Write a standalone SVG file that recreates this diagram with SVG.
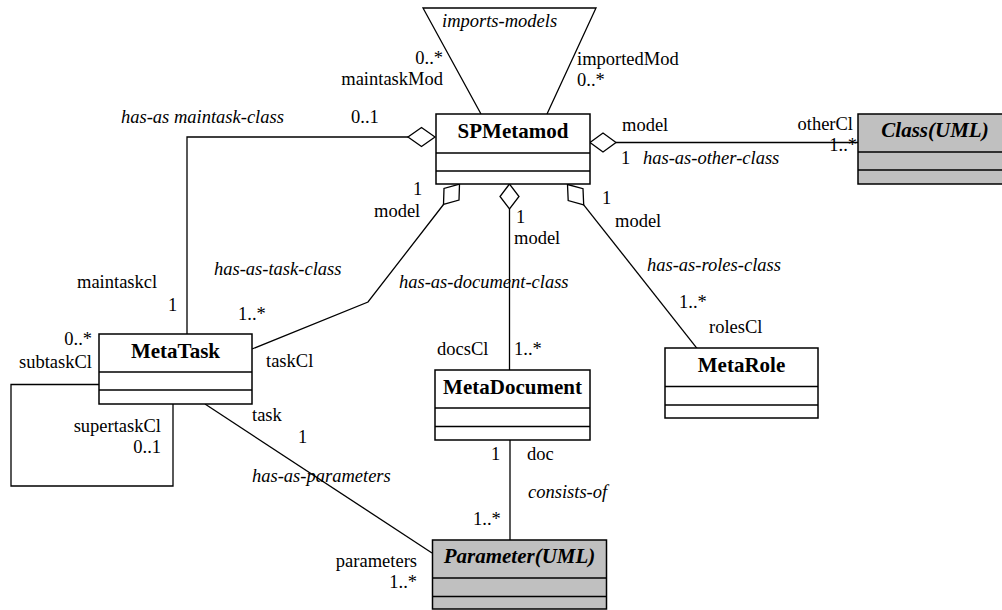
<svg xmlns="http://www.w3.org/2000/svg" width="1002" height="610" viewBox="0 0 1002 610">
  <style>
    .box { fill: #ffffff; stroke: #000; stroke-width: 1.5; }
    .ext { fill: #c0c0c0; stroke: #000; stroke-width: 1.5; }
    .sep { stroke: #000; stroke-width: 1.5; fill: none; }
    .edge { stroke: #000; stroke-width: 1.3; fill: none; }
    .agg { fill: #ffffff; stroke: #000; stroke-width: 1.3; }
    text { font-family: "Liberation Serif", "Times New Roman", serif; fill: #000; }
    .lbl { font-size: 18.5px; }
    .role { font-size: 18.5px; font-style: italic; }
    .ttl { font-size: 21px; font-weight: bold; text-anchor: middle; }
    .ttli { font-size: 21px; font-weight: bold; font-style: italic; text-anchor: middle; }
    .end { text-anchor: end; }
  </style>

  <!-- associations -->
  <g id="connectors">
    <!-- imports-models (self association of SPMetamod) -->
    <polyline class="edge" points="481,114 423,8 596,8 547,114"/>
    <!-- has-as maintask-class -->
    <polyline class="edge" points="408,137 187,137 187,334"/>
    <polygon class="agg" points="435,137 421.5,127.5 408,137 421.5,146.5"/>
    <!-- has-as-other-class -->
    <line class="edge" x1="616" y1="142.5" x2="858" y2="142.5"/>
    <polygon class="agg" points="590,142.5 603,133 616,142.5 603,152"/>
    <!-- has-as-task-class -->
    <polyline class="edge" points="443.5,204.5 368,302 252,349"/>
    <polygon class="agg" points="459.5,184 459,200.1 443.5,204.5 444,188.4"/>
    <!-- has-as-document-class -->
    <line class="edge" x1="509.5" y1="209" x2="509.5" y2="370"/>
    <polygon class="agg" points="509.5,184 500,196.5 509.5,209 519,196.5"/>
    <!-- has-as-roles-class -->
    <line class="edge" x1="583.7" y1="204.8" x2="697" y2="348.3"/>
    <polygon class="agg" points="567.5,184.5 583,188.7 583.7,204.8 568.2,200.6"/>
    <!-- subtask / supertask loop -->
    <polyline class="edge" points="99,384.5 11,384.5 11,486 173,486 173,404"/>
    <!-- has-as-parameters -->
    <line class="edge" x1="205" y1="404" x2="432" y2="553"/>
    <!-- consists-of -->
    <line class="edge" x1="510" y1="440" x2="510" y2="540"/>

    <!-- association names -->
    <text class="role" x="442" y="27">imports-models</text>
    <text class="role" x="121" y="123">has-as maintask-class</text>
    <text class="role" x="643" y="164">has-as-other-class</text>
    <text class="role" x="214" y="275">has-as-task-class</text>
    <text class="role" x="399" y="288">has-as-document-class</text>
    <text class="role" x="647" y="271">has-as-roles-class</text>
    <text class="role" x="252" y="482">has-as-parameters</text>
    <text class="role" x="528" y="498">consists-of</text>

    <!-- role names and multiplicities -->
    <text class="lbl end" x="443" y="64">0..*</text>
    <text class="lbl end" x="443" y="85">maintaskMod</text>
    <text class="lbl" x="577" y="65">importedMod</text>
    <text class="lbl" x="577" y="86">0..*</text>
    <text class="lbl" x="351" y="123">0..1</text>
    <text class="lbl" x="622" y="131">model</text>
    <text class="lbl" x="621" y="164">1</text>
    <text class="lbl end" x="853" y="130">otherCl</text>
    <text class="lbl end" x="857" y="151">1..*</text>
    <text class="lbl" x="413" y="195">1</text>
    <text class="lbl" x="374" y="217">model</text>
    <text class="lbl" x="516" y="223">1</text>
    <text class="lbl" x="514" y="244">model</text>
    <text class="lbl" x="602" y="204">1</text>
    <text class="lbl" x="615" y="227">model</text>
    <text class="lbl" x="77" y="288">maintaskcl</text>
    <text class="lbl" x="168" y="311">1</text>
    <text class="lbl" x="238" y="320">1..*</text>
    <text class="lbl" x="266" y="367">taskCl</text>
    <text class="lbl end" x="92" y="345">0..*</text>
    <text class="lbl end" x="92" y="368">subtaskCl</text>
    <text class="lbl end" x="161" y="432">supertaskCl</text>
    <text class="lbl end" x="161" y="453">0..1</text>
    <text class="lbl" x="252" y="421">task</text>
    <text class="lbl" x="298" y="443">1</text>
    <text class="lbl" x="437" y="355">docsCl</text>
    <text class="lbl" x="514" y="355">1..*</text>
    <text class="lbl" x="679" y="308">1..*</text>
    <text class="lbl" x="709" y="333">rolesCl</text>
    <text class="lbl" x="491" y="460">1</text>
    <text class="lbl" x="527" y="460">doc</text>
    <text class="lbl" x="473" y="525">1..*</text>
    <text class="lbl end" x="417" y="567">parameters</text>
    <text class="lbl end" x="417" y="588">1..*</text>
  </g>

  <!-- classes -->
  <g id="SPMetamod">
    <rect class="box" x="436" y="114" width="154" height="70"/>
    <line class="sep" x1="436" y1="153" x2="590" y2="153"/>
    <line class="sep" x1="436" y1="171" x2="590" y2="171"/>
    <text class="ttl" x="513" y="138">SPMetamod</text>
  </g>

  <g id="ClassUML">
    <rect class="ext" x="858" y="114" width="160" height="70"/>
    <line class="sep" x1="858" y1="152" x2="1018" y2="152"/>
    <line class="sep" x1="858" y1="170" x2="1018" y2="170"/>
    <text class="ttli" x="935" y="137">Class(UML)</text>
  </g>

  <g id="MetaTask">
    <rect class="box" x="99" y="334" width="153" height="70"/>
    <line class="sep" x1="99" y1="372" x2="252" y2="372"/>
    <line class="sep" x1="99" y1="390" x2="252" y2="390"/>
    <text class="ttl" x="175.5" y="358">MetaTask</text>
  </g>

  <g id="MetaDocument">
    <rect class="box" x="435" y="370" width="155" height="70"/>
    <line class="sep" x1="435" y1="408" x2="590" y2="408"/>
    <line class="sep" x1="435" y1="426.5" x2="590" y2="426.5"/>
    <text class="ttl" x="512.5" y="394">MetaDocument</text>
  </g>

  <g id="MetaRole">
    <rect class="box" x="665" y="348" width="153" height="70"/>
    <line class="sep" x1="665" y1="386.5" x2="818" y2="386.5"/>
    <line class="sep" x1="665" y1="405" x2="818" y2="405"/>
    <text class="ttl" x="741.5" y="372">MetaRole</text>
  </g>

  <g id="ParameterUML">
    <rect class="ext" x="432.5" y="540" width="174" height="69"/>
    <line class="sep" x1="432.5" y1="578" x2="606.5" y2="578"/>
    <line class="sep" x1="432.5" y1="596.5" x2="606.5" y2="596.5"/>
    <text class="ttli" x="519.5" y="563">Parameter(UML)</text>
  </g>
</svg>
